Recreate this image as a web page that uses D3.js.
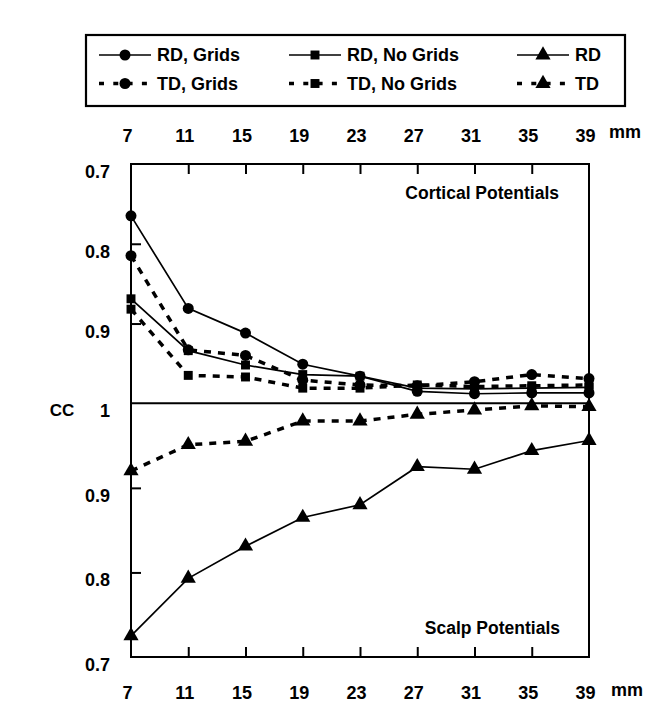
<!DOCTYPE html>
<html>
<head>
<meta charset="utf-8">
<script src="https://cdn.jsdelivr.net/npm/d3@7"></script>
<style>
  html, body { margin: 0; padding: 0; background: #fff; }
  svg text { font-family: "Liberation Sans", Arial, sans-serif; font-weight: bold; fill: #000; }
</style>
</head>
<body>
<svg id="chart" width="672" height="719"></svg>
<script>
// ---- data ----
const distances = [7, 11, 15, 19, 23, 27, 31, 35, 39];
const rdGrids   = [0.765, 0.881, 0.912, 0.951, 0.966, 0.985, 0.988, 0.987, 0.987];
const rdNoGrids = [0.869, 0.934, 0.952, 0.964, 0.966, 0.981, 0.982, 0.981, 0.980];
const tdGrids   = [0.815, 0.933, 0.940, 0.971, 0.977, 0.978, 0.973, 0.964, 0.969];
const tdNoGrids = [0.882, 0.965, 0.967, 0.981, 0.981, 0.977, 0.979, 0.978, 0.977];
const rdScalp   = [0.725, 0.793, 0.831, 0.865, 0.880, 0.925, 0.922, 0.944, 0.956];
const tdScalp   = [0.920, 0.951, 0.955, 0.979, 0.979, 0.987, 0.992, 0.997, 0.996];
const topTicks = [0.7, 0.8, 0.9, 1];
const botTicks = [0.9, 0.8, 0.7];
const legendLabels = ["RD, Grids", "RD, No Grids", "RD", "TD, Grids", "TD, No Grids", "TD"];

const svg = d3.select("#chart");
const L = 131, R = 589, T = 164, M = 403.3, B = 657;

const x = d3.scaleLinear().domain([7, 39]).range([L, R]);
const yTop = d3.scaleLinear().domain([0.7, 1]).range([T, M]);
const yBot = d3.scaleLinear().domain([1, 0.7]).range([M, B]);

const series = [
  { name: legendLabels[0], vals: rdGrids,   y: yTop, dashed: false, marker: "circle" },
  { name: legendLabels[1], vals: rdNoGrids, y: yTop, dashed: false, marker: "square" },
  { name: legendLabels[2], vals: rdScalp,   y: yBot, dashed: false, marker: "triangle" },
  { name: legendLabels[3], vals: tdGrids,   y: yTop, dashed: true,  marker: "circle" },
  { name: legendLabels[4], vals: tdNoGrids, y: yTop, dashed: true,  marker: "square" },
  { name: legendLabels[5], vals: tdScalp,   y: yBot, dashed: true,  marker: "triangle" }
];

const symType = { circle: d3.symbolCircle, square: d3.symbolSquare, triangle: d3.symbolTriangle };
const symSize = { circle: 95, square: 80, triangle: 100 };
const symbol = m => d3.symbol().type(symType[m]).size(symSize[m])();

// ---- axes ----
const fmt = d => d === 1 ? "1" : d3.format(".1f")(d);
const gyT = svg.append("g").attr("transform", `translate(${L},0)`)
  .call(d3.axisLeft(yTop).tickValues(topTicks).tickSize(-10).tickPadding(21).tickFormat(fmt));
const gyB = svg.append("g").attr("transform", `translate(${L},0)`)
  .call(d3.axisLeft(yBot).tickValues(botTicks).tickSize(-10).tickPadding(21).tickFormat(fmt));
const gxT = svg.append("g").attr("transform", `translate(0,${T})`)
  .call(d3.axisTop(x).tickValues(distances).tickSize(-10).tickPadding(22).tickFormat(d3.format("d")));
const gxB = svg.append("g").attr("transform", `translate(0,${B})`)
  .call(d3.axisBottom(x).tickValues(distances).tickSize(-10).tickPadding(30).tickFormat(d3.format("d")));

[gyT, gyB, gxT, gxB].forEach(g => {
  g.select(".domain").remove();
  g.selectAll(".tick line").attr("stroke", "#000").attr("stroke-width", 2);
  g.selectAll("text").style("font-size", "18px").attr("fill", "#000");
});
[gyT, gyB].forEach(g => g.selectAll("text").attr("dy", "0.75em").attr("y", 0));
[gxT, gxB].forEach(g => g.selectAll("text").attr("dx", "-4"));
gxB.selectAll("text").attr("dy", "0.35em").attr("y", 36);
gxT.selectAll("text").attr("dy", "0.35em").attr("y", -28);
// remove tick marks that coincide with frame edges
gyT.selectAll(".tick").filter(d => d === 0.7 || d === 1).select("line").remove();
gyB.selectAll(".tick").filter(d => d === 0.7).select("line").remove();
gxT.selectAll(".tick").filter(d => d === 7 || d === 39).select("line").remove();
gxB.selectAll(".tick").filter(d => d === 7 || d === 39).select("line").remove();

// frame and centre line
svg.append("rect").attr("x", L).attr("y", T).attr("width", R - L).attr("height", B - T)
  .attr("fill", "none").attr("stroke", "#000").attr("stroke-width", 2);
svg.append("line").attr("x1", L).attr("x2", R).attr("y1", M).attr("y2", M)
  .attr("stroke", "#000").attr("stroke-width", 2);

// axis unit labels
svg.append("text").attr("x", 609).attr("y", 132).attr("dy", "0.35em").style("font-size", "18px").text("mm");
svg.append("text").attr("x", 611).attr("y", 690).attr("dy", "0.35em").style("font-size", "18px").text("mm");
svg.append("text").attr("x", 62).attr("y", 410).attr("dy", "0.35em").attr("text-anchor", "middle")
  .style("font-size", "17px").text("CC");

// panel titles
svg.append("text").attr("x", 559).attr("y", 193).attr("dy", "0.35em").attr("text-anchor", "end")
  .style("font-size", "17.5px").text("Cortical Potentials");
svg.append("text").attr("x", 560).attr("y", 628).attr("dy", "0.35em").attr("text-anchor", "end")
  .style("font-size", "17.5px").text("Scalp Potentials");

// ---- series ----
const gLines = svg.append("g");
const gMarks = svg.append("g");
series.forEach(s => {
  const line = d3.line().x((d, i) => x(distances[i])).y(d => s.y(d));
  gLines.append("path").datum(s.vals).attr("d", line)
    .attr("fill", "none").attr("stroke", "#000")
    .attr("stroke-width", s.dashed ? 3.5 : 1.7)
    .attr("stroke-dasharray", s.dashed ? "7,7" : null);
  gMarks.selectAll(null).data(s.vals).enter().append("path")
    .attr("d", symbol(s.marker))
    .attr("transform", (d, i) => `translate(${x(distances[i])},${s.y(d)})`)
    .attr("fill", "#000");
});

// ---- legend ----
svg.append("rect").attr("x", 86).attr("y", 35).attr("width", 539).attr("height", 71)
  .attr("fill", "none").attr("stroke", "#000").attr("stroke-width", 2.2);
const colX = [99, 289, 517];
const rowY = [55, 83.5];
series.forEach((s, k) => {
  const col = k % 3, row = Math.floor(k / 3);
  const x0 = colX[col], x1 = x0 + 52, yy = rowY[row];
  const g = svg.append("g");
  g.append("line").attr("x1", x0).attr("x2", x1).attr("y1", yy).attr("y2", yy)
    .attr("stroke", "#000")
    .attr("stroke-width", s.dashed ? 3.5 : 1.7)
    .attr("stroke-dasharray", s.dashed ? "5,9.3" : null);
  g.append("path").attr("d", symbol(s.marker))
    .attr("transform", `translate(${(x0 + x1) / 2},${yy})`).attr("fill", "#000");
  g.append("text").attr("x", x1 + 6).attr("y", yy).attr("dy", "0.36em")
    .style("font-size", "18px").text(s.name);
});
</script>
</body>
</html>
